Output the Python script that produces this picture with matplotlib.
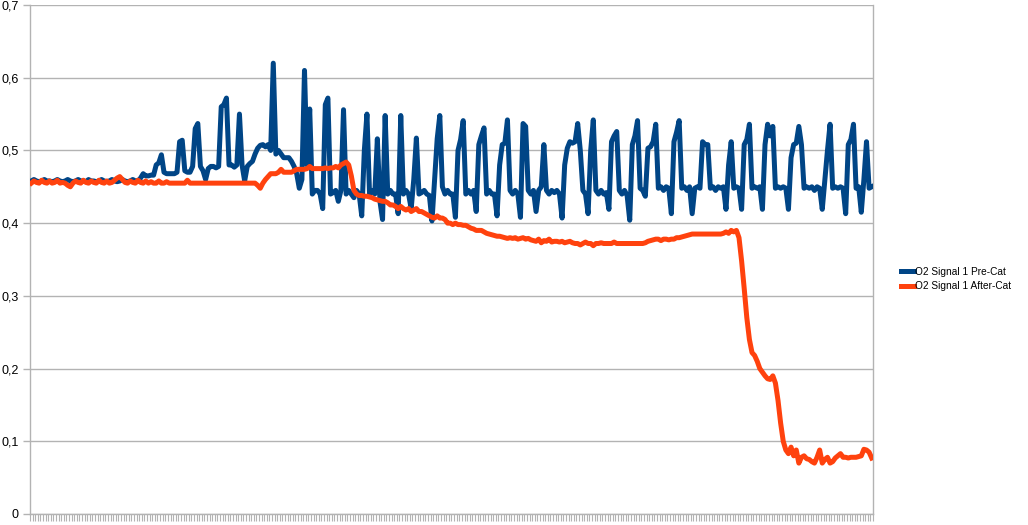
import numpy as np
import matplotlib
matplotlib.use("Agg")
import matplotlib.pyplot as plt
from matplotlib.ticker import FuncFormatter

plt.rcParams['font.family'] = ['Liberation Sans', 'DejaVu Sans']

series_names = ["O2 Signal 1 Pre-Cat", "O2 Signal 1 After-Cat"]

pre_cat = [
    # 0-41
    0.458,0.46,0.458,0.457,0.458,0.46,0.458,0.458,0.457,0.458,
    0.46,0.458,0.457,0.458,0.46,0.458,0.457,0.458,0.46,0.458,
    0.458,0.457,0.46,0.458,0.458,0.457,0.458,0.46,0.458,0.457,
    0.458,0.46,0.458,0.457,0.458,0.46,0.458,0.457,0.458,0.46,
    0.458,0.458,
    # 42-99
    0.462,0.468,0.465,0.465,0.466,0.466,0.48,0.483,0.494,0.47,
    0.468,0.468,0.468,0.468,0.47,0.512,0.514,0.472,0.47,0.47,
    0.478,0.53,0.537,0.478,0.472,0.46,0.475,0.478,0.478,0.476,
    0.478,0.56,0.563,0.572,0.48,0.48,0.477,0.48,0.55,0.48,
    0.458,0.478,0.482,0.485,0.495,0.503,0.507,0.508,0.505,0.508,
    0.5,0.62,0.495,0.5,0.495,0.49,0.49,0.49,
    # 100-159
    0.485,0.478,0.468,0.448,0.46,0.61,0.48,0.557,0.44,0.445,
    0.445,0.44,0.42,0.563,0.572,0.44,0.442,0.445,0.43,0.445,
    0.556,0.44,0.445,0.44,0.435,0.445,0.44,0.41,0.5,0.55,
    0.44,0.445,0.44,0.516,0.43,0.405,0.548,0.44,0.445,0.44,
    0.44,0.413,0.548,0.44,0.445,0.44,0.42,0.46,0.517,0.44,
    0.442,0.445,0.44,0.438,0.403,0.46,0.516,0.548,0.45,0.44,
    # 160-219
    0.445,0.44,0.44,0.408,0.5,0.515,0.541,0.44,0.445,0.44,
    0.445,0.416,0.508,0.52,0.531,0.44,0.445,0.44,0.44,0.41,
    0.48,0.508,0.51,0.542,0.445,0.44,0.445,0.44,0.408,0.537,
    0.533,0.445,0.44,0.445,0.416,0.445,0.45,0.508,0.445,0.44,
    0.445,0.442,0.445,0.44,0.407,0.48,0.503,0.512,0.51,0.512,
    0.537,0.5,0.445,0.44,0.413,0.5,0.542,0.445,0.44,0.445,
    # 220-279
    0.44,0.442,0.419,0.512,0.52,0.526,0.445,0.44,0.445,0.438,
    0.404,0.508,0.52,0.541,0.448,0.445,0.437,0.503,0.505,0.512,
    0.536,0.448,0.45,0.445,0.45,0.448,0.413,0.512,0.525,0.541,
    0.448,0.45,0.445,0.45,0.413,0.448,0.45,0.448,0.512,0.508,
    0.508,0.448,0.45,0.445,0.45,0.448,0.45,0.419,0.48,0.512,
    0.448,0.45,0.448,0.419,0.508,0.515,0.536,0.448,0.45,0.448,
    # 280-323
    0.45,0.419,0.508,0.536,0.52,0.533,0.448,0.45,0.448,0.45,
    0.448,0.419,0.49,0.508,0.51,0.533,0.508,0.448,0.45,0.448,
    0.45,0.445,0.45,0.448,0.419,0.46,0.5,0.536,0.448,0.45,
    0.448,0.45,0.448,0.413,0.508,0.515,0.536,0.448,0.45,0.415,
    0.46,0.512,0.448,0.45,
]

after_cat = [
    # 0-43
    0.455,0.458,0.456,0.455,0.459,0.456,0.455,0.458,0.455,0.456,
    0.459,0.455,0.456,0.455,0.452,0.45,0.455,0.458,0.456,0.455,
    0.459,0.456,0.455,0.458,0.456,0.455,0.459,0.456,0.455,0.458,
    0.455,0.456,0.459,0.462,0.464,0.46,0.456,0.455,0.458,0.456,
    0.455,0.459,0.456,0.455,
    # 44-86
    0.458,0.455,0.457,0.455,0.455,0.458,0.455,0.455,0.457,0.455,
    0.455,0.455,0.455,0.455,0.455,0.455,0.459,0.455,0.455,0.455,
    0.455,0.455,0.455,0.455,0.455,0.455,0.455,0.455,0.455,0.455,
    0.455,0.455,0.455,0.455,0.455,0.455,0.455,0.455,0.455,0.455,
    0.455,0.455,0.455,
    # 87-133
    0.452,0.448,0.455,0.46,0.464,0.468,0.468,0.468,0.47,0.474,
    0.47,0.47,0.47,0.47,0.472,0.474,0.474,0.474,0.474,0.475,
    0.478,0.475,0.475,0.475,0.475,0.475,0.476,0.475,0.476,0.476,
    0.478,0.476,0.48,0.482,0.484,0.48,0.465,0.445,0.44,0.438,
    0.438,0.437,0.437,0.436,0.435,0.433,0.432,
    # 134-192
    0.431,0.43,0.43,0.428,0.425,0.425,0.423,0.42,0.423,0.42,
    0.418,0.42,0.416,0.418,0.42,0.416,0.416,0.414,0.412,0.41,
    0.408,0.407,0.41,0.407,0.407,0.405,0.4,0.4,0.398,0.4,
    0.398,0.398,0.397,0.397,0.395,0.393,0.392,0.39,0.39,0.39,
    0.388,0.386,0.385,0.384,0.383,0.382,0.382,0.381,0.38,0.379,
    0.38,0.379,0.38,0.378,0.379,0.38,0.378,0.379,0.377,
    # 193-238
    0.376,0.375,0.378,0.373,0.376,0.375,0.378,0.374,0.375,0.375,
    0.374,0.375,0.373,0.374,0.375,0.373,0.372,0.372,0.37,0.372,
    0.374,0.372,0.372,0.369,0.372,0.372,0.373,0.372,0.372,0.372,
    0.372,0.374,0.372,0.372,0.372,0.372,0.372,0.372,0.372,0.372,
    0.372,0.372,0.372,0.373,0.375,0.376,
    # 239-270
    0.377,0.378,0.378,0.376,0.378,0.378,0.377,0.378,0.378,0.38,
    0.38,0.381,0.382,0.383,0.384,0.385,0.385,0.385,0.385,0.385,
    0.385,0.385,0.385,0.385,0.385,0.385,0.385,0.386,0.388,0.386,
    0.39,0.388,
    # 271-323
    0.39,0.38,0.348,0.31,0.27,0.24,0.222,0.218,0.21,0.2,
    0.195,0.19,0.186,0.185,0.19,0.18,0.156,0.125,0.1,0.088,
    0.083,0.092,0.08,0.088,0.07,0.078,0.08,0.076,0.075,0.072,
    0.07,0.078,0.088,0.07,0.075,0.078,0.07,0.072,0.077,0.08,
    0.083,0.078,0.078,0.077,0.078,0.078,0.078,0.079,0.08,0.089,
    0.088,0.085,0.077,
]

y_ticks = [0, 0.1, 0.2, 0.3, 0.4, 0.5, 0.6, 0.7]
colors = ["#004586", "#ff420e"]
grid_color = "#b3b3b3"

n = len(pre_cat)
x = np.arange(n)

fig = plt.figure(figsize=(10.28, 5.25), dpi=100)
ax = fig.add_axes([30/1028, 11/525, 843/1028, 509/525])

ax.plot(x, pre_cat, color=colors[0], lw=3.6, solid_joinstyle='round', label=series_names[0], zorder=3)
ax.plot(x, after_cat, color=colors[1], lw=3.6, solid_joinstyle='round', label=series_names[1], zorder=4)

ax.set_xlim(-0.5, n - 0.5)
ax.set_ylim(0, 0.7)
ax.set_yticks(y_ticks)
ax.yaxis.set_major_formatter(FuncFormatter(lambda v, p: ('%g' % round(v, 2)).replace('.', ',')))
ax.set_xticks(np.arange(-0.5, n, 1))
ax.set_xticklabels([])
ax.grid(axis='y', color=grid_color, lw=1)
ax.set_axisbelow(True)
ax.tick_params(axis='x', length=5, width=0.8, color=grid_color, direction='out')
ax.tick_params(axis='y', length=5, width=1, color=grid_color, direction='out', labelsize=9, pad=3, labelcolor='black')
for s in ['left', 'bottom', 'right']:
    ax.spines[s].set_color(grid_color)
    ax.spines[s].set_linewidth(1)
ax.spines['top'].set_visible(False)

fig.legend(handles=ax.get_lines(), labels=series_names, loc='center left',
           bbox_to_anchor=(896/1028, 1 - 279/525), frameon=False, fontsize=7.3,
           handlelength=1.3, handletextpad=0.1, borderpad=0, labelspacing=0.45)

fig.savefig("out.png", dpi=100)
